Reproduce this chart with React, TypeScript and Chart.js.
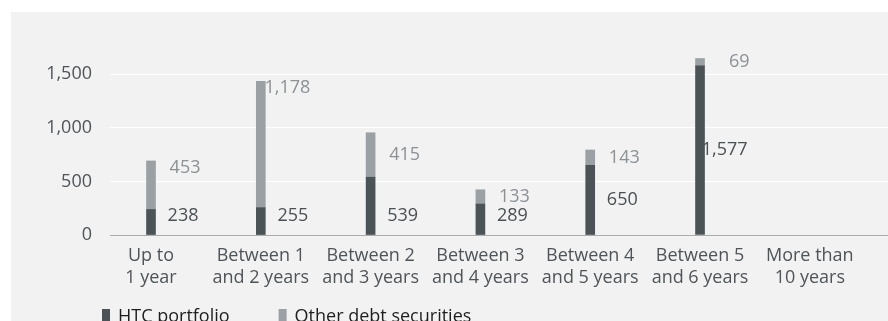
import React, { useEffect, useRef } from "react";
import { Chart, registerables } from "chart.js";

Chart.register(...registerables);

const categoryLabels: string[][] = [
  ["Up to", "1 year"],
  ["Between 1", "and 2 years"],
  ["Between 2", "and 3 years"],
  ["Between 3", "and 4 years"],
  ["Between 4", "and 5 years"],
  ["Between 5", "and 6 years"],
  ["More than", "10 years"],
];
const htcValues: (number | null)[] = [238, 255, 539, 289, 650, 1577, null];
const otherValues: (number | null)[] = [453, 1178, 415, 133, 143, 69, null];
const yTickValues = [0, 500, 1000, 1500];
const seriesNames = ["HTC portfolio", "Other debt securities"];

// label placement style per segment (where the value text sits next to its segment)
const htcLabelAnchor = ["base", "base", "base", "base", "mid", "mid", "mid"];
const otherLabelAnchor = ["top", "top", "mid", "mid", "mid", "mid", "mid"];

const FONT = "'Open Sans', 'DejaVu Sans', sans-serif";
const HTC_COLOR = "#4b5356";
const OTHER_COLOR = "#9aa0a4";

const fmt = (v: number) => v.toLocaleString("en-US");

const valueLabelPlugin = {
  id: "valueLabels",
  afterDatasetsDraw(chart: any) {
    const ctx = chart.ctx;
    ctx.save();
    ctx.font = `18px ${FONT}`;
    ctx.textAlign = "right";
    ctx.textBaseline = "middle";
    chart.data.datasets.forEach((ds: any, d: number) => {
      const meta = chart.getDatasetMeta(d);
      const anchors = d === 0 ? htcLabelAnchor : otherLabelAnchor;
      ctx.fillStyle = d === 0 ? "#4a5054" : "#8b9195";
      meta.data.forEach((el: any, i: number) => {
        const raw = ds.data[i];
        if (!raw || raw.y == null) return;
        const { x, y, base } = el.getProps(["x", "y", "base"], true);
        let ty = (y + base) / 2;
        if (anchors[i] === "top") ty = y + 7;
        if (anchors[i] === "base") ty = base - 19;
        const tx = x + (d === 0 ? 47.5 : 49.5);
        ctx.fillText(fmt(raw.y), tx, ty);
      });
    });
    ctx.restore();
  },
};

const legendPlugin = {
  id: "bottomLegend",
  afterDraw(chart: any) {
    const ctx = chart.ctx;
    const area = chart.chartArea;
    ctx.save();
    ctx.font = `18px ${FONT}`;
    ctx.textAlign = "left";
    ctx.textBaseline = "alphabetic";
    let x = area.left - 8;
    const baseline = chart.height + 1;
    chart.data.datasets.forEach((ds: any) => {
      ctx.fillStyle = ds.backgroundColor;
      ctx.fillRect(x, baseline - 13, 8, 14);
      ctx.fillStyle = "#1e1e1e";
      ctx.fillText(ds.label, x + 16, baseline);
      x += 16 + ctx.measureText(ds.label).width + 49;
    });
    ctx.restore();
  },
};

export default function App() {
  const canvasRef = useRef<HTMLCanvasElement | null>(null);

  useEffect(() => {
    if (!canvasRef.current) return;
    const chart = new Chart(canvasRef.current, {
      type: "bar",
      data: {
        datasets: [
          {
            label: seriesNames[0],
            data: htcValues.map((v, i) => ({ x: i, y: v })) as any,
            backgroundColor: HTC_COLOR,
            barThickness: 9,
          },
          {
            label: seriesNames[1],
            data: otherValues.map((v, i) => ({ x: i, y: v })) as any,
            backgroundColor: OTHER_COLOR,
            barThickness: 9,
          },
        ],
      },
      options: {
        responsive: false,
        animation: false,
        events: [],
        layout: { padding: { top: 30, left: 0, right: 0, bottom: 30.6 } },
        plugins: {
          tooltip: { enabled: false },
          legend: { display: false },
        },
        scales: {
          x: {
            type: "linear",
            stacked: true,
            offset: false,
            min: -0.3734,
            max: 6.712,
            grid: { display: false, offset: false },
            border: { display: false },
            afterBuildTicks: (s: any) => {
              s.ticks = categoryLabels.map((_, i) => ({ value: i }));
            },
            ticks: {
              autoSkip: false,
              maxRotation: 0,
              minRotation: 0,
              padding: 1,
              color: "#4f5458",
              font: { family: FONT, size: 18, lineHeight: 1.26 },
              callback: (_v: any, index: number) => categoryLabels[index],
            },
          },
          y: {
            stacked: true,
            min: 0,
            max: 1800,
            border: { display: false },
            grid: {
              drawTicks: false,
              lineWidth: 1,
              color: (c: any) => (c.tick && c.tick.value === 0 ? "#a9abad" : "#ffffff"),
            },
            afterBuildTicks: (s: any) => {
              s.ticks = yTickValues.map((v) => ({ value: v }));
            },
            afterFit: (s: any) => {
              s.width = 99;
            },
            ticks: {
              padding: 18,
              color: "#4f5458",
              font: { family: FONT, size: 18 },
              callback: (v: any) => fmt(Number(v)),
            },
          },
        },
      },
      plugins: [valueLabelPlugin, legendPlugin],
    } as any);
    return () => chart.destroy();
  }, []);

  return (
    <div
      style={{
        position: "absolute",
        left: 11,
        top: 12,
        width: 877,
        height: 309,
        overflow: "hidden",
        background: "#f2f2f2",
      }}
    >
      <canvas ref={canvasRef} width={877} height={309} style={{ display: "block" }} />
    </div>
  );
}
